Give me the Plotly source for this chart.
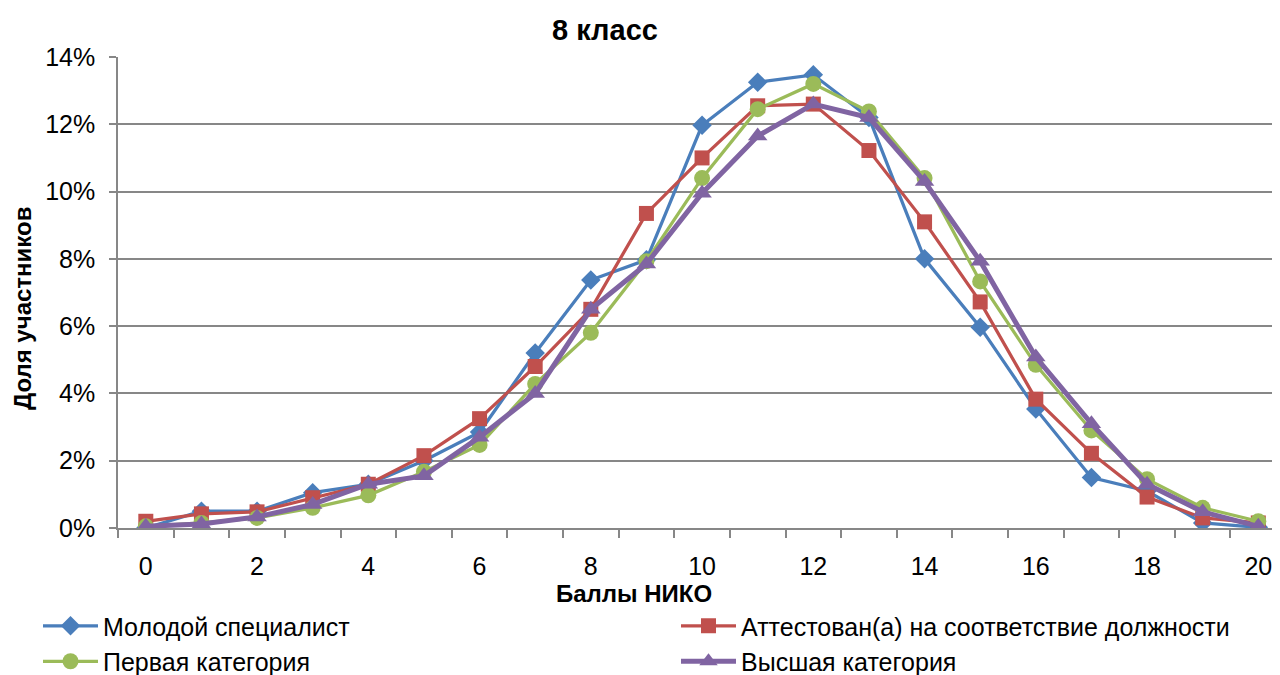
import plotly.graph_objects as go

scores = list(range(21))

young = [0.0002, 0.5, 0.5, 1.05, 1.3, 2.0, 2.85, 5.2, 7.37, 7.97, 11.97, 13.25, 13.47, 12.2, 8.0, 5.97, 3.54, 1.5, 1.1, 0.15, 0.02]
attest = [0.2, 0.42, 0.48, 0.9, 1.3, 2.15, 3.25, 4.8, 6.5, 9.35, 11.0, 12.55, 12.6, 11.22, 9.1, 6.72, 3.83, 2.22, 0.92, 0.3, 0.15]
first = [0.05, 0.15, 0.3, 0.6, 0.97, 1.67, 2.47, 4.28, 5.8, 7.93, 10.4, 12.45, 13.2, 12.38, 10.4, 7.33, 4.85, 2.9, 1.45, 0.6, 0.2]
highest = [0.05, 0.12, 0.33, 0.7, 1.3, 1.55, 2.7, 4.0, 6.5, 7.85, 9.95, 11.65, 12.6, 12.2, 10.3, 7.93, 5.08, 3.1, 1.3, 0.48, 0.05]

series = [
    ('Молодой специалист', young, '#4A7EBB', 'diamond', 15, 3.25, 'legend'),
    ('Аттестован(а) на соответствие должности', attest, '#C0504D', 'square', 15, 3.25, 'legend2'),
    ('Первая категория', first, '#9BBB59', 'circle', 16, 3.25, 'legend'),
    ('Высшая категория', highest, '#8064A2', 'triangle-up', 17, 5, 'legend2'),
]

font = 'Liberation Sans'
grid = '#878787'

# page body has an 8px margin, so the figure is 1272x667 and sits at (8, 8)
W, H = 1272, 667
L, R, T, B = 110, 1272, 49, 520


def px(x):
    return (x - L) / (R - L)


def py(y):
    return (B - y) / (B - T)


fig = go.Figure()
for name, vals, color, symbol, size, width, leg in series:
    fig.add_trace(go.Scatter(
        x=scores, y=[v / 100 for v in vals],
        mode='lines+markers', name=name, legend=leg,
        line=dict(color=color, width=width),
        marker=dict(symbol=symbol, size=size, color=color)
    ))

legend_style = dict(
    orientation='v', xref='container', xanchor='left',
    yref='container', yanchor='top', y=1 - 595 / H,
    font=dict(size=25), tracegroupgap=0, itemwidth=55,
    bgcolor='rgba(0,0,0,0)',
)

fig.update_layout(
    width=W, height=H,
    margin=dict(l=L, r=W - R, t=T, b=H - B, autoexpand=False),
    plot_bgcolor='white', paper_bgcolor='white',
    font=dict(family=font, size=25, color='black'),
    title=dict(text='<b>8 класс</b>', x=597 / W, xref='container', xanchor='center',
               y=1 - 22 / H, yref='container', yanchor='middle',
               font=dict(size=29, family=font)),
    xaxis=dict(
        range=[-0.5, 20.39], tickvals=list(range(0, 21, 2)),
        showgrid=False, zeroline=False, ticks='',
        showline=True, linecolor=grid, linewidth=1.5,
        minor=dict(tick0=-0.5, dtick=1, ticks='outside', ticklen=8, tickcolor=grid, tickwidth=1.5, showgrid=False),
        tickfont=dict(size=25), ticklabelstandoff=15,
    ),
    yaxis=dict(
        range=[0, 0.14], dtick=0.02, tickformat='.0%',
        showgrid=True, gridcolor=grid, gridwidth=1.5, zeroline=False,
        showline=True, linecolor=grid, linewidth=1.5,
        ticks='outside', ticklen=7, tickcolor=grid, tickwidth=1.5,
        tickfont=dict(size=25), ticklabelstandoff=9,
    ),
    showlegend=True,
    legend=dict(x=30 / W, **legend_style),
    legend2=dict(x=668 / W, **legend_style),
    annotations=[
        dict(text='<b>Баллы НИКО</b>', x=px(626), xref='paper', y=py(585), yref='paper',
             xanchor='center', yanchor='middle', showarrow=False, font=dict(size=24)),
        dict(text='<b>Доля участников</b>', x=px(14), xref='paper', y=py(300), yref='paper',
             xanchor='center', yanchor='middle', showarrow=False, textangle=-90, font=dict(size=24)),
    ],
)

fig.write_html('out.html')
